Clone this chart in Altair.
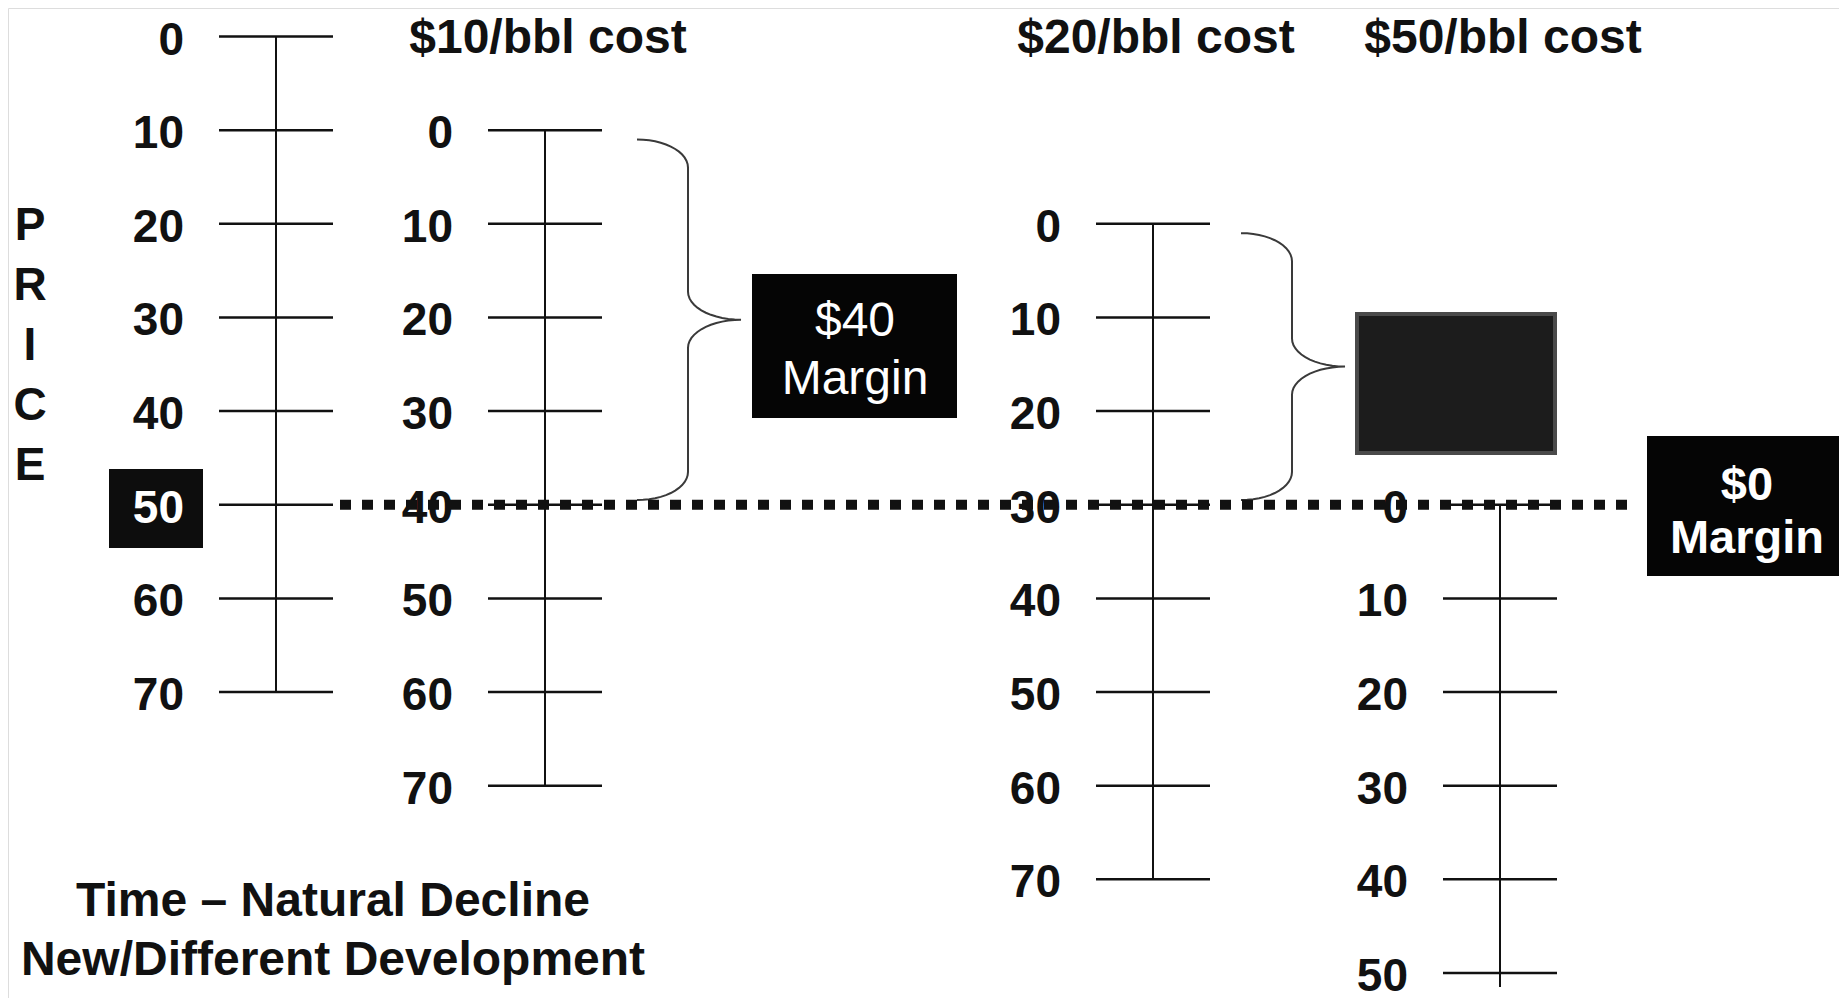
import altair as alt
import numpy as np
import pandas as pd

# ---------------- data ----------------
ruler_names = ["PRICE", "$10/bbl cost", "$20/bbl cost", "$50/bbl cost"]
ruler_costs = [0, 10, 20, 50]
ruler_ticks = [
    [0, 10, 20, 30, 40, 50, 60, 70],
    [0, 10, 20, 30, 40, 50, 60, 70],
    [0, 10, 20, 30, 40, 50, 60, 70],
    [0, 10, 20, 30, 40, 50],
]
ruler_line_end = [70, 70, 70, 51.5]
market_price = 50
side_title = ["P", "R", "I", "C", "E"]
margin_40 = ["$40", "Margin"]
margin_0 = ["$0", "Margin"]
footer_lines = ["Time \u2013 Natural Decline", "New/Different Development", "Oil or Gas"]

# ---------------- layout ----------------
W, H, PAGE = 1831, 990, 8
P0, P100 = 36.5, 973.0               # page y of price 0 and price 100
STEP = (P100 - P0) / 100.0
y_dom = [(PAGE - P0) / STEP, (PAGE + H - P0) / STEP]
ruler_x = [276, 545, 1153, 1500]
TICK_HALF = 57
LABEL_GAP = 92
FONT = "Liberation Sans, Arial, Helvetica, sans-serif"
INK = "#111111"

xs = alt.Scale(domain=[PAGE, PAGE + W], nice=False, zero=False)
ys = alt.Scale(domain=y_dom, reverse=True, nice=False, zero=False)


def px(v):
    return v - PAGE


rows = []
for i, (cost, ticks) in enumerate(zip(ruler_costs, ruler_ticks)):
    for v in ticks:
        rows.append({
            "ruler": i, "value": v, "price": v + cost, "label": str(v),
            "x1": ruler_x[i] - TICK_HALF, "x2": ruler_x[i] + TICK_HALF,
            "lx": ruler_x[i] - LABEL_GAP,
            "hl": bool(i == 0 and v + cost == market_price),
        })
df_ticks = pd.DataFrame(rows)

df_rulers = pd.DataFrame({
    "ruler": range(4), "name": ruler_names, "rx": ruler_x,
    "top": ruler_costs,
    "bottom": [c + e for c, e in zip(ruler_costs, ruler_line_end)],
})
df_titles = df_rulers.iloc[1:].assign(tx=lambda d: d["rx"] + 3)

df_price = pd.DataFrame({"price": [market_price], "x1": [340], "x2": [1631]})


def brace(bid, x0, p_top, p_bot, w1=51, w2=53, r=3.0, n=14):
    pm = (p_top + p_bot) / 2.0
    t = np.linspace(0, np.pi / 2, n)
    tr = t[::-1]
    bx = np.concatenate([
        x0 + w1 * np.sin(t),
        x0 + w1 + w2 * (1 - np.cos(t)),
        x0 + w1 + w2 * (1 - np.cos(tr)),
        x0 + w1 * np.sin(tr),
    ])
    by = np.concatenate([
        p_top + r * (1 - np.cos(t)),
        pm - r + r * np.sin(t),
        pm + r - r * np.sin(tr),
        p_bot - r * (1 - np.cos(tr)),
    ])
    return pd.DataFrame({"bid": bid, "i": range(len(bx)), "bx": bx, "by": by})


df_brace = pd.concat([
    brace(1, ruler_x[1] + TICK_HALF + 35, ruler_costs[1] + 1, market_price - 0.5),
    brace(2, ruler_x[2] + TICK_HALF + 31, ruler_costs[2] + 1, market_price - 0.5),
])

one = pd.DataFrame({"k": [0]})

# ---------------- layers ----------------
def box(x1, x2, y1, y2, fill, stroke=None, sw=0):
    kw = dict(color=fill)
    if stroke:
        kw.update(stroke=stroke, strokeWidth=sw)
    return alt.Chart(one).mark_rect(**kw).encode(
        x=alt.value(px(x1)), x2=alt.value(px(x2)),
        y=alt.value(px(y1)), y2=alt.value(px(y2)))


box50 = box(109, 203, 469, 548, "#0d0d0d")
box40 = box(752, 957, 274, 418, "#050505")
boxgrey = box(1357, 1555, 314, 453, "#1c1c1c", "#4a4a4a", 4)
box0 = box(1647, 1850, 436, 576, "#050505")

ticks = alt.Chart(df_ticks).mark_rule(color=INK, strokeWidth=2.5).encode(
    x=alt.X("x1:Q", scale=xs, axis=None), x2="x2:Q",
    y=alt.Y("price:Q", scale=ys, axis=None))

verticals = alt.Chart(df_rulers).mark_rule(color=INK, strokeWidth=2).encode(
    x=alt.X("rx:Q", scale=xs, axis=None),
    y=alt.Y("top:Q", scale=ys, axis=None), y2="bottom:Q")

braces = alt.Chart(df_brace).mark_line(color="#3a3a3a", strokeWidth=2).encode(
    x=alt.X("bx:Q", scale=xs, axis=None),
    y=alt.Y("by:Q", scale=ys, axis=None),
    detail="bid:N", order="i:Q")

labels = alt.Chart(df_ticks).mark_text(
    align="right", baseline="middle", font=FONT, fontSize=46,
    fontWeight="bold", dy=4).encode(
    x=alt.X("lx:Q", scale=xs, axis=None),
    y=alt.Y("price:Q", scale=ys, axis=None),
    text="label:N",
    color=alt.condition("datum.hl", alt.value("white"), alt.value(INK)))

titles = alt.Chart(df_titles).mark_text(
    align="center", baseline="middle", font=FONT, fontSize=48,
    fontWeight="bold", color=INK).encode(
    x=alt.X("tx:Q", scale=xs, axis=None), y=alt.value(px(39)), text="name:N")

dotted = alt.Chart(df_price).mark_rule(
    color=INK, strokeWidth=10, strokeDash=[11, 11], strokeCap="butt").encode(
    x=alt.X("x1:Q", scale=xs, axis=None), x2="x2:Q",
    y=alt.Y("price:Q", scale=ys, axis=None))

price_txt = alt.Chart(one).mark_text(
    text=side_title, align="center", baseline="top", font=FONT, fontSize=46,
    fontWeight="bold", lineHeight=60, color=INK).encode(
    x=alt.value(px(30)), y=alt.value(px(204)))

m40_txt = alt.Chart(one).mark_text(
    text=margin_40, align="center", baseline="top", font=FONT, fontSize=48,
    fontWeight="normal", lineHeight=58, color="white").encode(
    x=alt.value(px(855)), y=alt.value(px(298)))

m0_txt = alt.Chart(one).mark_text(
    text=margin_0, align="center", baseline="top", font=FONT, fontSize=47,
    fontWeight="bold", lineHeight=53, color="white").encode(
    x=alt.value(px(1747)), y=alt.value(px(463)))

footer = alt.Chart(one).mark_text(
    text=footer_lines, align="center", baseline="top", font=FONT, fontSize=48,
    fontWeight="bold", lineHeight=59, color=INK).encode(
    x=alt.value(px(333)), y=alt.value(px(878)))

chart = alt.layer(
    box50, box40, boxgrey, box0,
    ticks, verticals, braces, labels, titles, dotted,
    price_txt, m40_txt, m0_txt, footer,
).properties(
    width=W, height=H, padding=0,
    autosize=alt.AutoSizeParams(type="none"),
).configure_view(stroke="transparent", strokeWidth=0).configure(background="white")

chart.save("out.html", embed_options={"renderer": "svg", "actions": False})
